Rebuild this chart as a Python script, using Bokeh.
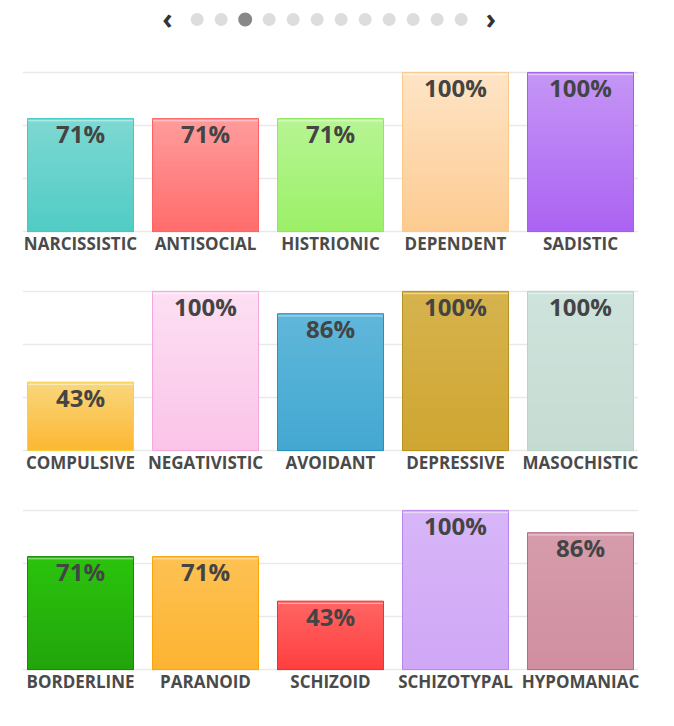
from bokeh.plotting import figure
from bokeh.layouts import column
from bokeh.models import Range1d, FixedTicker, Grid, ColumnDataSource
from bokeh.embed import file_html
from bokeh.resources import INLINE
from bokeh.core.properties import value

# ---------------- data ----------------
row1_cats = ["NARCISSISTIC", "ANTISOCIAL", "HISTRIONIC", "DEPENDENT", "SADISTIC"]
row1_vals = [71, 71, 71, 100, 100]
row1_top = ["#7ed8d2", "#ff9c9c", "#b7f594", "#fee4c6", "#c596f5"]
row1_bot = ["#50ccc5", "#ff6c6c", "#9cf068", "#fdcb91", "#ab63f2"]
row1_edge = ["#3ecdc4", "#ff6464", "#8eea5a", "#fcc98a", "#a35df0"]

row2_cats = ["COMPULSIVE", "NEGATIVISTIC", "AVOIDANT", "DEPRESSIVE", "MASOCHISTIC"]
row2_vals = [43, 100, 86, 100, 100]
row2_top = ["#f9d77c", "#fce0f3", "#60b7da", "#d6b34e", "#cee3db"]
row2_bot = ["#fdb733", "#fbc3e8", "#43a8d1", "#cfa631", "#c6dcd3"]
row2_edge = ["#fbd03c", "#f5a8dc", "#2a8fbe", "#b8921f", "#b8d6c8"]

row3_cats = ["BORDERLINE", "PARANOID", "SCHIZOID", "SCHIZOTYPAL", "HYPOMANIAC"]
row3_vals = [71, 71, 43, 100, 86]
row3_top = ["#2bc30d", "#fdc153", "#ff6565", "#d7b6f8", "#d69cac"]
row3_bot = ["#22a50b", "#fdb431", "#ff3f3f", "#d0a7f6", "#d08fa1"]
row3_edge = ["#1a8a08", "#fca50b", "#e53535", "#b787ec", "#b56b83"]

grid_ticks = [0, 100 / 3, 200 / 3, 100]

pages = list(range(12))
active_page = 2

TEXT = "#444444"
FONT = "Open Sans"


def hex2rgb(h):
    h = h.lstrip("#")
    return tuple(int(h[i:i + 2], 16) for i in (0, 2, 4))


def mix(c1, c2, t):
    a, b = hex2rgb(c1), hex2rgb(c2)
    return "#%02x%02x%02x" % tuple(int(round(a[k] + (b[k] - a[k]) * t)) for k in range(3))


def row_figure(cats, vals, tops, bots, edges):
    n = len(cats)
    xs = list(range(n))
    w = 0.848
    p = figure(frame_width=616, frame_height=163,
               min_border_left=22, min_border_right=20,
               min_border_top=12, min_border_bottom=44,
               x_range=Range1d(-0.464, n - 1 + 0.464),
               y_range=Range1d(-1.2, 101.2),
               y_axis_location=None,
               output_backend="svg", toolbar_location=None)
    p.outline_line_color = None
    p.center = [r for r in p.center if not isinstance(r, Grid)]
    p.add_layout(Grid(dimension=1, ticker=FixedTicker(ticks=grid_ticks),
                      grid_line_color="#e9e9e9", grid_line_width=1.5))

    # gradient: nested quads from the base, tallest first (no seams)
    nsl = 40
    L, R, B, T, C = [], [], [], [], []
    for i, v in enumerate(vals):
        for j in range(nsl - 1, -1, -1):
            L.append(xs[i] - w / 2)
            R.append(xs[i] + w / 2)
            B.append(0)
            T.append(v * (j + 1) / nsl)
            C.append(mix(bots[i], tops[i], (j + 0.5) / nsl))
    p.quad(left=L, right=R, bottom=B, top=T, fill_color=C, line_color=None)

    src = ColumnDataSource(dict(
        left=[x - w / 2 for x in xs], right=[x + w / 2 for x in xs],
        top=vals, bottom=[0] * n, hl=[v - 1.4 for v in vals],
        edge=edges, lab=["%d%%" % v for v in vals], x=xs))
    p.segment(x0="left", x1="right", y0="hl", y1="hl", source=src,
              line_color="white", line_alpha=0.55, line_width=1)
    p.quad(left="left", right="right", bottom="bottom", top="top", source=src,
           fill_color=None, line_color="edge", line_width=1)

    p.text(x="x", y="top", text="lab", source=src,
           text_font=value(FONT), text_font_style="bold", text_font_size="24px",
           text_color=TEXT, text_align="center", text_baseline="middle",
           y_offset=15)

    ax = p.xaxis[0]
    ax.ticker = FixedTicker(ticks=xs)
    ax.major_label_overrides = {i: c for i, c in enumerate(cats)}
    ax.axis_line_color = None
    ax.major_tick_line_color = None
    ax.minor_tick_line_color = None
    ax.major_tick_out = 0
    ax.major_tick_in = 0
    ax.major_label_text_font = FONT
    ax.major_label_text_font_style = "bold"
    ax.major_label_text_font_size = "17px"
    ax.major_label_text_color = "#4a4a4a"
    ax.major_label_standoff = -2
    return p


# ---------------- nav (carousel) ----------------
nav_start = -(196.7 - 22) / 24
nav = figure(frame_width=616, frame_height=58,
             min_border_left=22, min_border_right=20,
             min_border_top=0, min_border_bottom=0,
             x_range=Range1d(nav_start, nav_start + 616 / 24),
             y_range=Range1d(58, 0),
             x_axis_location=None, y_axis_location=None,
             output_backend="svg", toolbar_location=None)
nav.outline_line_color = None
nav.grid.visible = False
dot_col = ["#888888" if i == active_page else "#dddddd" for i in pages]
dot_size = [14 if i == active_page else 13 for i in pages]
nav.scatter(x=pages, y=[19] * len(pages), size=dot_size, fill_color=dot_col,
            line_color=None)
nav.text(x=[pages[0] - 1.24, pages[-1] + 1.24], y=[19, 19], text=["‹", "›"],
         text_font=value(FONT), text_font_style="bold", text_font_size="28px",
         text_color="#333333", text_align="center", text_baseline="middle",
         y_offset=-2)

p1 = row_figure(row1_cats, row1_vals, row1_top, row1_bot, row1_edge)
p2 = row_figure(row2_cats, row2_vals, row2_top, row2_bot, row2_edge)
p3 = row_figure(row3_cats, row3_vals, row3_top, row3_bot, row3_edge)

layout = column(nav, p1, p2, p3, spacing=0)
open("out.html", "w").write(file_html(layout, INLINE))
